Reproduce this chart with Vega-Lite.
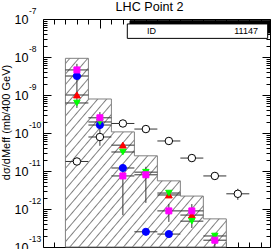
{
  "$schema": "https://vega.github.io/schema/vega-lite/v6.json",
  "width": 227,
  "height": 228,
  "autosize": "none",
  "padding": {"left": 43, "top": 19, "right": 3, "bottom": 2},
  "title": {"text": "LHC Point 2", "font": "Liberation Sans", "fontSize": 12.6, "fontWeight": "normal", "color": "#000", "anchor": "middle", "frame": "group", "baseline": "alphabetic", "offset": -17, "dx": -7},
  "config": {"view": {"stroke": null}, "font": "Liberation Sans"},
  "datasets": {
    "hist": [
      {"x": 400, "v": 9.23e-9},
      {"x": 800, "v": 7.85e-10},
      {"x": 1200, "v": 1.07e-10},
      {"x": 1600, "v": 2.51e-11},
      {"x": 2000, "v": 5.5e-12},
      {"x": 2400, "v": 2.19e-12},
      {"x": 2800, "v": 5.5e-13},
      {"x": 3200, "v": 5.5e-13}
    ],
    "pts": [
      {"s": "open", "m": 600, "x0": 400, "x1": 800, "v": 1.78e-11},
      {"s": "open", "m": 1000, "x0": 800, "x1": 1200, "v": 7.85e-11, "lo": 4.6e-11, "hi": 1.45e-10},
      {"s": "open", "m": 1400, "x0": 1200, "x1": 1600, "v": 1.78e-10},
      {"s": "open", "m": 1800, "x0": 1600, "x1": 2000, "v": 1.27e-10},
      {"s": "open", "m": 2200, "x0": 2000, "x1": 2400, "v": 6.17e-11},
      {"s": "open", "m": 2600, "x0": 2400, "x1": 2800, "v": 2.19e-11},
      {"s": "open", "m": 3000, "x0": 2800, "x1": 3200, "v": 7.41e-12},
      {"s": "open", "m": 3400, "x0": 3200, "x1": 3600, "v": 2.51e-12, "lo": 1.74e-12, "hi": 3.4e-12},
      {"s": "blue", "m": 600, "x0": 400, "x1": 800, "v": 3.16e-9},
      {"s": "blue", "m": 1000, "x0": 800, "x1": 1200, "v": 1.62e-10},
      {"s": "blue", "m": 1400, "x0": 1200, "x1": 1600, "v": 1.2e-11},
      {"s": "blue", "m": 1800, "x0": 1600, "x1": 2000, "v": 2.51e-13},
      {"s": "blue", "m": 2200, "x0": 2000, "x1": 2400, "v": 2.19e-13},
      {"s": "red", "m": 600, "x0": 400, "x1": 800, "v": 1.0e-9},
      {"s": "red", "m": 1400, "x0": 1200, "x1": 1600, "v": 4.79e-11},
      {"s": "red", "m": 2200, "x0": 2000, "x1": 2400, "v": 2.34e-12},
      {"s": "red", "m": 2600, "x0": 2400, "x1": 2800, "v": 6.92e-13},
      {"s": "green", "m": 600, "x0": 400, "x1": 800, "v": 6.17e-10},
      {"s": "green", "m": 1000, "x0": 800, "x1": 1200, "v": 1.95e-10},
      {"s": "green", "m": 1400, "x0": 1200, "x1": 1600, "v": 3.16e-11},
      {"s": "green", "m": 1800, "x0": 1600, "x1": 2000, "v": 9.33e-12},
      {"s": "green", "m": 2200, "x0": 2000, "x1": 2400, "v": 2.63e-12},
      {"s": "green", "m": 2600, "x0": 2400, "x1": 2800, "v": 4.79e-13},
      {"s": "green", "m": 3000, "x0": 2800, "x1": 3200, "v": 1.95e-13},
      {"s": "magenta", "m": 600, "x0": 400, "x1": 800, "v": 4.57e-9, "lo": 4.57e-10, "hi": 6.6e-9},
      {"s": "magenta", "m": 1000, "x0": 800, "x1": 1200, "v": 2.51e-10, "lo": 1.51e-10, "hi": 3.55e-10},
      {"s": "magenta", "m": 1400, "x0": 1200, "x1": 1600, "v": 7.41e-12, "lo": 6.9e-13, "hi": 1.07e-11},
      {"s": "magenta", "m": 1800, "x0": 1600, "x1": 2000, "v": 7.94e-12, "lo": 1.45e-12, "hi": 1.29e-11},
      {"s": "magenta", "m": 2200, "x0": 2000, "x1": 2400, "v": 8.91e-13, "lo": 4.57e-13, "hi": 1.35e-12},
      {"s": "magenta", "m": 2600, "x0": 2400, "x1": 2800, "v": 8.91e-13, "lo": 3.16e-13, "hi": 1.35e-12},
      {"s": "magenta", "m": 3000, "x0": 2800, "x1": 3200, "v": 1.51e-13, "lo": 1e-13, "hi": 2.34e-13}
    ],
    "box": [
      {"part": "shadow", "xa": 1524, "xb": 3960, "ya": 4.29e-8, "yb": 9.02e-8},
      {"part": "box", "xa": 1477, "xb": 3920, "ya": 3.09e-8, "yb": 7.41e-8}
    ],
    "stat": [
      {"label": "ID", "x": 1820, "y": 4.83e-8, "side": "left"},
      {"label": "11147", "x": 3751, "y": 4.83e-8, "side": "right"}
    ],
    "exps": [
      {"v": 1e-13, "e": "-13"},
      {"v": 1e-12, "e": "-12"},
      {"v": 1e-11, "e": "-11"},
      {"v": 1e-10, "e": "-10"},
      {"v": 1e-9, "e": "-9"},
      {"v": 1e-8, "e": "-8"},
      {"v": 1e-7, "e": "-7"}
    ]
  },
  "resolve": {"axis": {"x": "independent", "y": "independent"}},
  "layer": [
    {
      "data": {"name": "hist"},
      "mark": {
        "type": "area",
        "interpolate": "step-after",
        "stroke": "#808080",
        "strokeWidth": 1,
        "fill": {
          "gradient": "linear", "x1": 0, "y1": 0, "x2": 1, "y2": 1,
          "stops": [
            {"offset": 0, "color": "#ffffff"},
            {"offset": 0.00989, "color": "#ffffff"}, {"offset": 0.01389, "color": "#808080"}, {"offset": 0.01789, "color": "#ffffff"},
            {"offset": 0.03767, "color": "#ffffff"}, {"offset": 0.04167, "color": "#808080"}, {"offset": 0.04567, "color": "#ffffff"},
            {"offset": 0.06544, "color": "#ffffff"}, {"offset": 0.06944, "color": "#808080"}, {"offset": 0.07344, "color": "#ffffff"},
            {"offset": 0.09322, "color": "#ffffff"}, {"offset": 0.09722, "color": "#808080"}, {"offset": 0.10122, "color": "#ffffff"},
            {"offset": 0.121, "color": "#ffffff"}, {"offset": 0.125, "color": "#808080"}, {"offset": 0.129, "color": "#ffffff"},
            {"offset": 0.14878, "color": "#ffffff"}, {"offset": 0.15278, "color": "#808080"}, {"offset": 0.15678, "color": "#ffffff"},
            {"offset": 0.17656, "color": "#ffffff"}, {"offset": 0.18056, "color": "#808080"}, {"offset": 0.18456, "color": "#ffffff"},
            {"offset": 0.20433, "color": "#ffffff"}, {"offset": 0.20833, "color": "#808080"}, {"offset": 0.21233, "color": "#ffffff"},
            {"offset": 0.23211, "color": "#ffffff"}, {"offset": 0.23611, "color": "#808080"}, {"offset": 0.24011, "color": "#ffffff"},
            {"offset": 0.25989, "color": "#ffffff"}, {"offset": 0.26389, "color": "#808080"}, {"offset": 0.26789, "color": "#ffffff"},
            {"offset": 0.28767, "color": "#ffffff"}, {"offset": 0.29167, "color": "#808080"}, {"offset": 0.29567, "color": "#ffffff"},
            {"offset": 0.31544, "color": "#ffffff"}, {"offset": 0.31944, "color": "#808080"}, {"offset": 0.32344, "color": "#ffffff"},
            {"offset": 0.34322, "color": "#ffffff"}, {"offset": 0.34722, "color": "#808080"}, {"offset": 0.35122, "color": "#ffffff"},
            {"offset": 0.371, "color": "#ffffff"}, {"offset": 0.375, "color": "#808080"}, {"offset": 0.379, "color": "#ffffff"},
            {"offset": 0.39878, "color": "#ffffff"}, {"offset": 0.40278, "color": "#808080"}, {"offset": 0.40678, "color": "#ffffff"},
            {"offset": 0.42656, "color": "#ffffff"}, {"offset": 0.43056, "color": "#808080"}, {"offset": 0.43456, "color": "#ffffff"},
            {"offset": 0.45433, "color": "#ffffff"}, {"offset": 0.45833, "color": "#808080"}, {"offset": 0.46233, "color": "#ffffff"},
            {"offset": 0.48211, "color": "#ffffff"}, {"offset": 0.48611, "color": "#808080"}, {"offset": 0.49011, "color": "#ffffff"},
            {"offset": 0.50989, "color": "#ffffff"}, {"offset": 0.51389, "color": "#808080"}, {"offset": 0.51789, "color": "#ffffff"},
            {"offset": 0.53767, "color": "#ffffff"}, {"offset": 0.54167, "color": "#808080"}, {"offset": 0.54567, "color": "#ffffff"},
            {"offset": 0.56544, "color": "#ffffff"}, {"offset": 0.56944, "color": "#808080"}, {"offset": 0.57344, "color": "#ffffff"},
            {"offset": 0.59322, "color": "#ffffff"}, {"offset": 0.59722, "color": "#808080"}, {"offset": 0.60122, "color": "#ffffff"},
            {"offset": 0.621, "color": "#ffffff"}, {"offset": 0.625, "color": "#808080"}, {"offset": 0.629, "color": "#ffffff"},
            {"offset": 0.64878, "color": "#ffffff"}, {"offset": 0.65278, "color": "#808080"}, {"offset": 0.65678, "color": "#ffffff"},
            {"offset": 0.67656, "color": "#ffffff"}, {"offset": 0.68056, "color": "#808080"}, {"offset": 0.68456, "color": "#ffffff"},
            {"offset": 0.70433, "color": "#ffffff"}, {"offset": 0.70833, "color": "#808080"}, {"offset": 0.71233, "color": "#ffffff"},
            {"offset": 0.73211, "color": "#ffffff"}, {"offset": 0.73611, "color": "#808080"}, {"offset": 0.74011, "color": "#ffffff"},
            {"offset": 0.75989, "color": "#ffffff"}, {"offset": 0.76389, "color": "#808080"}, {"offset": 0.76789, "color": "#ffffff"},
            {"offset": 0.78767, "color": "#ffffff"}, {"offset": 0.79167, "color": "#808080"}, {"offset": 0.79567, "color": "#ffffff"},
            {"offset": 0.81544, "color": "#ffffff"}, {"offset": 0.81944, "color": "#808080"}, {"offset": 0.82344, "color": "#ffffff"},
            {"offset": 0.84322, "color": "#ffffff"}, {"offset": 0.84722, "color": "#808080"}, {"offset": 0.85122, "color": "#ffffff"},
            {"offset": 0.871, "color": "#ffffff"}, {"offset": 0.875, "color": "#808080"}, {"offset": 0.879, "color": "#ffffff"},
            {"offset": 0.89878, "color": "#ffffff"}, {"offset": 0.90278, "color": "#808080"}, {"offset": 0.90678, "color": "#ffffff"},
            {"offset": 0.92656, "color": "#ffffff"}, {"offset": 0.93056, "color": "#808080"}, {"offset": 0.93456, "color": "#ffffff"},
            {"offset": 0.95433, "color": "#ffffff"}, {"offset": 0.95833, "color": "#808080"}, {"offset": 0.96233, "color": "#ffffff"},
            {"offset": 0.98211, "color": "#ffffff"}, {"offset": 0.98611, "color": "#808080"}, {"offset": 0.99011, "color": "#ffffff"},
            {"offset": 1, "color": "#ffffff"}
          ]
        }
      },
      "encoding": {
        "x": {
          "field": "x", "type": "quantitative",
          "scale": {"domain": [10, 3960], "nice": false, "zero": false},
          "axis": {
            "orient": "bottom", "title": null, "labels": false, "grid": false,
            "values": [200, 400, 600, 800, 1000, 1200, 1400, 1600, 1800, 2000, 2200, 2400, 2600, 2800, 3000, 3200, 3400, 3600, 3800],
            "tickSize": {"condition": {"test": "datum.value % 1000 == 0", "value": -9}, "value": -5},
            "tickColor": "#000", "domainColor": "#000"
          }
        },
        "y": {
          "field": "v", "type": "quantitative",
          "scale": {"type": "log", "domain": [1e-13, 1e-7], "nice": false},
          "axis": {
            "orient": "left", "grid": false,
            "values": [1e-13, 2e-13, 3e-13, 4e-13, 5e-13, 6e-13, 7e-13, 8e-13, 9e-13, 1e-12, 2e-12, 3e-12, 4e-12, 5e-12, 6e-12, 7e-12, 8e-12, 9e-12, 1e-11, 2e-11, 3e-11, 4e-11, 5e-11, 6e-11, 7e-11, 8e-11, 9e-11, 1e-10, 2e-10, 3e-10, 4e-10, 5e-10, 6e-10, 7e-10, 8e-10, 9e-10, 1e-9, 2e-9, 3e-9, 4e-9, 5e-9, 6e-9, 7e-9, 8e-9, 9e-9, 1e-8, 2e-8, 3e-8, 4e-8, 5e-8, 6e-8, 7e-8, 8e-8, 9e-8, 1e-7],
            "tickSize": {"condition": {"test": "abs(log(datum.value)/LN10 - round(log(datum.value)/LN10)) < 0.01", "value": -8}, "value": -4},
            "tickColor": "#000", "domainColor": "#000",
            "labelExpr": "abs(log(datum.value)/LN10 - round(log(datum.value)/LN10)) < 0.01 ? '10' : ''",
            "labelFont": "Liberation Sans", "labelFontSize": 12.6, "labelColor": "#000",
            "labelPadding": 23, "labelOverlap": false, "labelFlush": false, "labelBound": false,
            "title": "dσ/dMeff (mb/400 GeV)", "titleFont": "Liberation Sans", "titleFontSize": 11, "titleFontWeight": "normal", "titleColor": "#000",
            "titleX": -37, "titleY": 103, "titleAngle": 270, "titleAlign": "center", "titleBaseline": "middle"
          }
        },
        "y2": {"datum": 1e-13}
      }
    },
    {
      "data": {"name": "pts"},
      "mark": {"type": "rule", "color": "#333333", "strokeWidth": 1},
      "encoding": {
        "x": {
          "field": "x0", "type": "quantitative",
          "scale": {"domain": [10, 3960], "nice": false, "zero": false},
          "axis": {
            "orient": "top", "title": null, "labels": false, "grid": false,
            "values": [200, 400, 600, 800, 1000, 1200, 1400, 1600, 1800, 2000, 2200, 2400, 2600, 2800, 3000, 3200, 3400, 3600, 3800],
            "tickSize": {"condition": {"test": "datum.value % 1000 == 0", "value": -9}, "value": -5},
            "tickColor": "#000", "domainColor": "#000"
          }
        },
        "x2": {"field": "x1"},
        "y": {
          "field": "v", "type": "quantitative",
          "scale": {"type": "log", "domain": [1e-13, 1e-7], "nice": false},
          "axis": {
            "orient": "right", "grid": false, "labels": false, "title": null,
            "values": [1e-13, 2e-13, 3e-13, 4e-13, 5e-13, 6e-13, 7e-13, 8e-13, 9e-13, 1e-12, 2e-12, 3e-12, 4e-12, 5e-12, 6e-12, 7e-12, 8e-12, 9e-12, 1e-11, 2e-11, 3e-11, 4e-11, 5e-11, 6e-11, 7e-11, 8e-11, 9e-11, 1e-10, 2e-10, 3e-10, 4e-10, 5e-10, 6e-10, 7e-10, 8e-10, 9e-10, 1e-9, 2e-9, 3e-9, 4e-9, 5e-9, 6e-9, 7e-9, 8e-9, 9e-9, 1e-8, 2e-8, 3e-8, 4e-8, 5e-8, 6e-8, 7e-8, 8e-8, 9e-8, 1e-7],
            "tickSize": {"condition": {"test": "abs(log(datum.value)/LN10 - round(log(datum.value)/LN10)) < 0.01", "value": -8}, "value": -4},
            "tickColor": "#000", "domainColor": "#000"
          }
        }
      }
    },
    {
      "data": {"name": "pts"},
      "transform": [{"filter": "isValid(datum.lo)"}],
      "mark": {"type": "rule", "color": "#333333", "strokeWidth": 1, "clip": true},
      "encoding": {
        "x": {"field": "m", "type": "quantitative", "scale": {"domain": [10, 3960], "nice": false, "zero": false}, "axis": null},
        "y": {"field": "lo", "type": "quantitative", "scale": {"type": "log", "domain": [1e-13, 1e-7], "nice": false}, "axis": null},
        "y2": {"field": "hi"}
      }
    },
    {
      "data": {"name": "pts"},
      "mark": {"type": "point", "filled": true, "strokeWidth": 1, "opacity": 1},
      "encoding": {
        "x": {"field": "m", "type": "quantitative", "scale": {"domain": [10, 3960], "nice": false, "zero": false}, "axis": null},
        "y": {"field": "v", "type": "quantitative", "scale": {"type": "log", "domain": [1e-13, 1e-7], "nice": false}, "axis": null},
        "shape": {"field": "s", "type": "nominal", "legend": null, "scale": {"domain": ["open", "blue", "red", "green", "magenta"], "range": ["circle", "circle", "triangle-up", "triangle-down", "square"]}},
        "fill": {"field": "s", "type": "nominal", "legend": null, "scale": {"domain": ["open", "blue", "red", "green", "magenta"], "range": ["#ffffff", "#0000ff", "#ff0000", "#00ff00", "#ff00ff"]}},
        "stroke": {"field": "s", "type": "nominal", "legend": null, "scale": {"domain": ["open", "blue", "red", "green", "magenta"], "range": ["#000000", "#0000ff", "#ff0000", "#00ff00", "#ff00ff"]}},
        "size": {"field": "s", "type": "nominal", "legend": null, "scale": {"domain": ["open", "blue", "red", "green", "magenta"], "range": [56, 36, 49, 49, 42]}}
      }
    },
    {
      "data": {"name": "box"},
      "transform": [{"filter": "datum.part == 'shadow'"}],
      "mark": {"type": "rect", "fill": "#000000", "stroke": "#000000", "strokeWidth": 1, "clip": true},
      "encoding": {
        "x": {"field": "xa", "type": "quantitative", "scale": {"domain": [10, 3960], "nice": false, "zero": false}, "axis": null},
        "x2": {"field": "xb"},
        "y": {"field": "ya", "type": "quantitative", "scale": {"type": "log", "domain": [1e-13, 1e-7], "nice": false}, "axis": null},
        "y2": {"field": "yb"}
      }
    },
    {
      "data": {"name": "box"},
      "transform": [{"filter": "datum.part == 'box'"}],
      "mark": {"type": "rect", "fill": "#ffffff", "stroke": "#000000", "strokeWidth": 1, "clip": true},
      "encoding": {
        "x": {"field": "xa", "type": "quantitative", "scale": {"domain": [10, 3960], "nice": false, "zero": false}, "axis": null},
        "x2": {"field": "xb"},
        "y": {"field": "ya", "type": "quantitative", "scale": {"type": "log", "domain": [1e-13, 1e-7], "nice": false}, "axis": null},
        "y2": {"field": "yb"}
      }
    },
    {
      "data": {"name": "stat"},
      "transform": [{"filter": "datum.side == 'left'"}],
      "mark": {"type": "text", "font": "Liberation Sans", "fontSize": 9, "color": "#000", "baseline": "middle", "align": "left"},
      "encoding": {
        "x": {"field": "x", "type": "quantitative", "scale": {"domain": [10, 3960], "nice": false, "zero": false}, "axis": null},
        "y": {"field": "y", "type": "quantitative", "scale": {"type": "log", "domain": [1e-13, 1e-7], "nice": false}, "axis": null},
        "text": {"field": "label"}
      }
    },
    {
      "data": {"name": "stat"},
      "transform": [{"filter": "datum.side == 'right'"}],
      "mark": {"type": "text", "font": "Liberation Sans", "fontSize": 9, "color": "#000", "baseline": "middle", "align": "right"},
      "encoding": {
        "x": {"field": "x", "type": "quantitative", "scale": {"domain": [10, 3960], "nice": false, "zero": false}, "axis": null},
        "y": {"field": "y", "type": "quantitative", "scale": {"type": "log", "domain": [1e-13, 1e-7], "nice": false}, "axis": null},
        "text": {"field": "label"}
      }
    },
    {
      "data": {"name": "exps"},
      "mark": {"type": "text", "font": "Liberation Sans", "fontSize": 8.5, "color": "#000", "baseline": "middle", "align": "left", "dy": -8, "clip": false},
      "encoding": {
        "x": {"datum": -234, "type": "quantitative", "scale": {"domain": [10, 3960], "nice": false, "zero": false}, "axis": null},
        "y": {"field": "v", "type": "quantitative", "scale": {"type": "log", "domain": [1e-13, 1e-7], "nice": false}, "axis": null},
        "text": {"field": "e"}
      }
    }
  ]
}
